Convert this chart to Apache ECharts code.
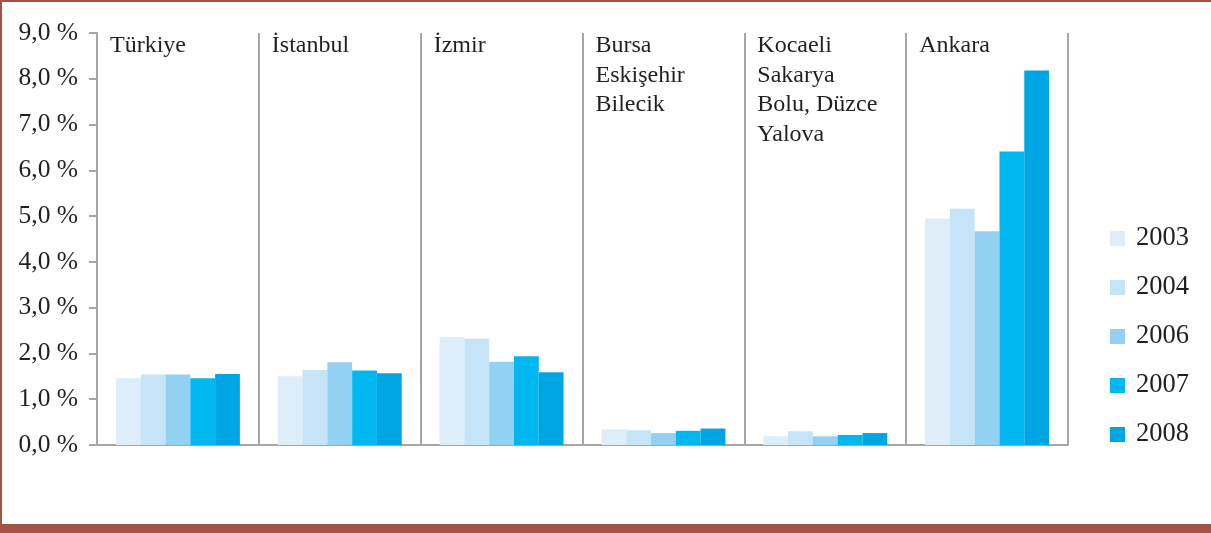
<!DOCTYPE html>
<html>
<head>
<meta charset="utf-8">
<script src="https://cdn.jsdelivr.net/npm/echarts@6/dist/echarts.min.js"></script>
<style>html,body{margin:0;padding:0;background:#fff;}#c{width:1211px;height:533px;}</style>
</head>
<body>
<div id="c"></div>
<script>
const categories = ['Türkiye', 'İstanbul', 'İzmir', 'Bursa\nEskişehir\nBilecik', 'Kocaeli\nSakarya\nBolu, Düzce\nYalova', 'Ankara'];
const years = ['2003', '2004', '2006', '2007', '2008'];
const v2003 = [1.46, 1.50, 2.36, 0.34, 0.19, 4.95];
const v2004 = [1.54, 1.64, 2.32, 0.32, 0.30, 5.16];
const v2006 = [1.54, 1.81, 1.82, 0.26, 0.19, 4.67];
const v2007 = [1.46, 1.63, 1.94, 0.31, 0.22, 6.41];
const v2008 = [1.55, 1.57, 1.59, 0.36, 0.26, 8.18];
const yTicks = [0, 1, 2, 3, 4, 5, 6, 7, 8, 9];
const colors = ['#DDEEFA', '#C6E4F7', '#93D1F3', '#00B7EF', '#00A6E4'];

const values = [v2003, v2004, v2006, v2007, v2008];
const FONT = 'Liberation Serif';
const chart = echarts.init(document.getElementById('c'), null, {renderer: 'canvas'});

const series = years.map((y, i) => ({
  name: y, type: 'bar', data: values[i], xAxisIndex: 0, yAxisIndex: 0,
  barGap: '0%', barCategoryGap: '23.4%',
  itemStyle: {color: colors[i]}, silent: true
}));
series.push({
  name: 'labels', type: 'bar', xAxisIndex: 1, yAxisIndex: 0,
  data: categories.map(() => yTicks[yTicks.length - 1]),
  barWidth: '100%', z: 1, silent: true,
  itemStyle: {color: 'rgba(0,0,0,0)'},
  label: {
    show: true, position: 'insideTopLeft', distance: 0, offset: [13, -2],
    formatter: p => categories[p.dataIndex],
    fontFamily: FONT, fontSize: 24, lineHeight: 29.5, color: '#231F20'
  }
});

chart.setOption({
  animation: false,
  backgroundColor: '#fff',
  grid: {left: 97, right: 143, top: 33, bottom: 88, containLabel: false},
  legend: {
    data: years, orient: 'vertical', left: 1110, top: 225, padding: 0,
    itemWidth: 15, itemHeight: 15, itemGap: 22, itemTextGap: 11,
    icon: 'rect',
    textStyle: {fontFamily: FONT, fontSize: 26.5, color: '#231F20', padding: [0, 0, 0, 6]}
  },
  xAxis: [{
    type: 'category', data: categories, position: 'bottom',
    axisLine: {show: true, lineStyle: {color: '#A6A6A6', width: 2}},
    axisTick: {show: false}, axisLabel: {show: false},
    splitLine: {show: true, lineStyle: {color: '#A6A6A6', width: 2}}
  }, {
    type: 'category', data: categories, show: false
  }],
  yAxis: {
    type: 'value', min: 0, max: 9, interval: 1,
    axisLine: {show: true, lineStyle: {color: '#A6A6A6', width: 2}},
    axisTick: {show: true, length: 8, lineStyle: {color: '#A6A6A6', width: 2}},
    splitLine: {show: false},
    axisLabel: {
      margin: 19, fontFamily: FONT, fontSize: 25.5, color: '#231F20',
      formatter: v => v.toFixed(1).replace('.', ',') + ' %'
    }
  },
  graphic: [
    {type: 'rect', left: 0, top: 0, shape: {width: 1211, height: 2}, style: {fill: '#A55045'}, silent: true},
    {type: 'rect', left: 0, top: 0, shape: {width: 2, height: 533}, style: {fill: '#A55045'}, silent: true},
    {type: 'rect', left: 0, top: 524, shape: {width: 1211, height: 9}, style: {fill: '#A55045'}, silent: true}
  ],
  series: series
});
</script>
</body>
</html>
